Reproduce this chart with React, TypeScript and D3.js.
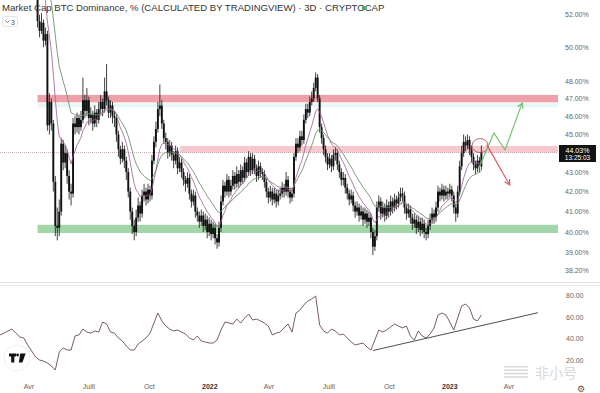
import React from 'react';
import * as d3 from 'd3';

// ---------- DATA ----------
const candleStart = '2021-02-16';
const candleStepDays = 3;
const firstOpen = 60.8;
const closes = [
  61.2,61.8,62.1,61.5,60.6,60.9,60.1,59.4,60.0,59.2,
  58.6,58.9,57.8,57.0,56.2,55.6,54.9,54.1,53.3,51.6,
  51.0,51.5,50.4,50.8,45.5,46.8,45.6,42.5,40.3,40.2,
  41.0,44.5,43.5,44.0,42.8,42.0,41.9,45.6,45.4,45.9,
  45.4,45.8,46.9,46.3,46.9,45.9,46.1,45.6,46.2,45.8,
  46.4,46.8,46.4,47.4,46.9,46.2,46.6,46.0,45.9,45.0,
  44.2,43.7,44.2,43.6,43.0,42.0,41.0,40.3,40.0,40.7,
  41.3,40.9,41.8,42.0,41.6,42.1,41.8,43.6,44.6,45.3,
  46.4,46.6,45.6,44.8,44.6,44.0,44.4,43.9,43.6,44.1,
  43.2,43.5,43.0,42.6,42.4,42.7,41.9,41.5,41.8,41.0,
  40.8,40.5,40.8,40.3,40.6,40.0,40.4,39.9,40.2,39.7,
  39.5,40.2,41.5,42.3,42.0,42.6,42.0,42.3,42.8,42.4,
  42.9,42.5,43.1,42.7,43.5,43.0,43.8,43.1,43.7,43.2,
  42.8,43.3,43.0,42.9,42.5,42.0,41.7,42.0,41.6,41.9,
  41.5,41.8,41.9,42.2,42.0,42.6,42.0,41.7,41.9,43.8,
  44.5,44.3,44.9,44.7,45.8,46.4,46.2,46.8,47.0,47.6,
  48.2,47.0,45.4,44.8,44.2,43.8,43.4,43.7,43.3,43.9,
  44.0,43.4,43.0,42.6,42.7,42.2,41.9,41.6,41.8,41.3,
  41.0,41.2,40.8,41.0,40.6,40.9,40.5,40.7,40.0,39.3,
  39.8,41.2,41.5,40.9,41.2,40.8,41.3,41.0,41.5,41.2,
  41.6,41.4,41.7,41.9,41.8,41.2,40.9,41.1,40.7,40.4,
  40.6,40.2,40.5,40.1,40.4,40.0,39.9,40.3,40.6,40.9,
  40.7,41.2,42.0,41.8,42.1,41.8,42.0,41.9,42.1,41.8,
  41.2,40.9,42.0,43.3,44.0,44.6,44.4,44.7,44.2,43.8,
  43.4,43.2,43.6,43.3,44.03,
];
const highs = [
  61.7,62.2,62.6,62.4,61.7,61.3,61.2,60.4,60.3,60.2,
  59.5,59.3,59.1,58.0,57.3,56.5,55.9,55.2,54.4,53.5,
  52.0,52.1,51.7,51.2,51.0,47.3,47.0,45.8,42.8,41.2,
  41.6,44.8,44.7,44.4,44.2,43.1,42.4,45.9,46.0,46.2,
  46.1,46.3,48.2,47.2,47.6,47.1,46.5,46.3,46.6,46.4,
  46.8,47.2,47.0,48.2,49.0,47.1,46.9,46.8,46.3,46.1,
  45.2,44.4,44.6,44.4,43.8,43.2,42.2,41.2,40.6,41.1,
  41.7,41.5,42.1,42.4,42.2,42.4,42.3,43.9,44.9,45.7,
  46.8,47.8,46.9,45.8,45.1,44.8,44.7,44.6,44.1,44.4,
  44.3,43.8,43.7,43.2,42.8,43.0,42.9,42.1,42.1,42.0,
  41.2,41.0,41.1,41.0,40.9,40.8,40.7,40.6,40.5,40.4,
  39.9,40.5,41.8,42.6,42.5,42.9,42.8,42.6,43.1,43.0,
  43.3,43.1,43.4,43.3,43.8,43.7,44.1,44.0,44.0,43.9,
  43.4,43.6,43.5,43.2,43.1,42.7,42.2,42.3,42.2,42.2,
  42.1,42.1,42.2,42.5,42.4,43.0,42.8,42.2,42.2,44.0,
  44.8,44.8,45.2,45.2,46.1,46.7,46.7,47.1,47.4,47.9,
  48.5,48.4,47.2,45.6,45.0,44.4,44.0,44.0,43.9,44.2,
  44.3,44.2,43.6,43.2,43.0,42.9,42.4,42.1,42.1,42.0,
  41.5,41.5,41.4,41.3,41.2,41.2,41.1,41.0,40.9,40.2,
  40.1,41.5,41.8,41.7,41.5,41.4,41.6,41.5,41.8,41.7,
  41.9,41.8,42.0,42.2,42.2,42.0,41.4,41.4,41.3,40.9,
  40.9,40.8,40.8,40.7,40.7,40.6,40.2,40.6,40.9,41.2,
  41.1,41.5,42.3,42.2,42.4,42.3,42.3,42.2,42.4,42.3,
  42.0,41.4,42.3,43.6,44.4,45.0,44.9,45.0,44.9,44.4,
  44.0,43.6,43.9,43.8,44.4,
];
const lows = [
  60.5,60.9,61.4,61.0,60.2,60.1,59.7,59.0,59.1,58.9,
  58.2,58.3,57.5,56.6,55.9,55.2,54.5,53.8,53.0,51.2,
  50.6,50.8,50.0,50.1,45.2,45.0,45.2,42.0,39.8,39.6,
  39.8,40.8,43.1,43.2,42.4,41.6,41.3,41.7,45.0,45.1,
  45.0,45.2,45.6,45.9,46.0,45.5,45.6,45.2,45.4,45.4,
  45.6,46.1,46.0,46.2,46.6,45.9,45.9,45.6,45.4,44.6,
  43.8,43.4,43.5,43.2,42.6,41.7,40.6,39.9,39.6,39.8,
  40.5,40.5,40.7,41.5,41.3,41.4,41.5,41.6,43.4,44.3,
  45.1,46.0,45.3,44.5,44.2,43.7,43.8,43.6,43.2,43.4,
  42.9,43.0,42.7,42.3,42.0,42.2,41.6,41.2,41.3,40.7,
  40.5,40.2,40.3,40.0,40.1,39.7,39.8,39.6,39.7,39.4,
  39.2,39.3,40.0,41.3,41.7,41.8,41.7,41.8,42.1,42.1,
  42.2,42.2,42.3,42.4,42.5,42.7,42.8,42.8,42.9,42.9,
  42.5,42.6,42.7,42.6,42.2,41.7,41.4,41.5,41.3,41.4,
  41.2,41.3,41.6,41.7,41.7,41.8,41.7,41.4,41.5,41.7,
  43.6,44.0,44.1,44.4,44.5,45.6,45.9,46.0,46.6,46.8,
  47.4,46.8,45.1,44.5,43.9,43.5,43.1,43.2,43.0,43.1,
  43.6,43.1,42.7,42.3,42.3,41.9,41.6,41.3,41.4,41.0,
  40.7,40.8,40.5,40.6,40.3,40.4,40.2,40.3,39.7,38.9,
  39.1,39.6,41.0,40.6,40.7,40.5,40.6,40.7,40.8,40.9,
  41.0,41.1,41.2,41.5,41.5,40.9,40.6,40.7,40.4,40.1,
  40.2,39.9,40.0,39.8,39.9,39.7,39.6,39.7,40.1,40.4,
  40.4,40.5,41.0,41.5,41.6,41.5,41.6,41.6,41.7,41.5,
  40.9,40.5,40.7,41.8,43.1,43.8,44.1,44.2,43.9,43.5,
  43.1,42.9,43.0,43.0,43.1,
];
// oscillator (lower pane), one reading every 2 candles
const oscEveryCandles = 2;
const oscValues = [
  43.3,45,47,48.8,45,41.4,40.5,34,28.4,22.8,
  20,19,17.2,14.4,10.7,27.4,31.2,29.3,29.3,42.3,
  43.3,48.8,46,45,47,46,55.3,53.5,46,45,
  40.5,37.7,33,29.3,29.3,34.9,37.7,40.5,45,54.4,
  63.7,56.3,51.6,48.8,47,47.9,46,44.2,40.5,38.6,
  42.3,37.7,36.7,35.8,35.8,38.6,47.9,55.3,54.4,53.5,
  58.1,54.4,59.1,62.8,57.2,58.1,56.3,54.4,51.6,43.3,
  45,46,49.8,53.5,46,63.7,66.5,71.2,74.9,76.7,
  79.5,52.6,47,45,48.8,47,43.3,44.2,40.5,36.7,
  34,34.9,35.8,32.1,29.3,38.6,47.9,46,47.9,50.7,
  53.5,51.6,49.8,51.6,42.3,38.6,47,42.3,40.5,44.2,
  49.8,61.9,63.7,61.9,55.3,47.9,59.1,70.2,72.1,68.4,
  58.1,56.3,61.9,
];
const oscTrendDates = ['2022-09-06', '2023-05-15'];
const oscTrendValues = [28.8, 64];

const priceTicks = [52, 50, 48, 47, 46, 45, 43, 42, 41, 40, 39, 38.2];
const oscTicks = [80, 60, 40, 20];
const timeTickDates = ['2021-04-01','2021-07-01','2021-10-01','2022-01-01','2022-04-01','2022-07-01','2022-10-01','2023-01-01','2023-04-01'];
const timeTickLabels = ['Avr','Juill','Oct','2022','Avr','Juill','Oct','2023','Avr'];
const yearTicks = ['2022', '2023'];

const lastPrice = 44.03;
const lastTimeLabel = '13:25:03';
const titleText = 'Market Cap BTC Dominance, % (CALCULATED BY TRADINGVIEW) · 3D · CRYPTOCAP';

const zoneLows = [46.78, 44.03, 39.95];
const zoneHighs = [47.2, 44.38, 40.35];
const zoneStarts = ['2021-04-14', '2021-11-17', '2021-04-14'];

const bullDates = ['2023-02-14', '2023-03-09', '2023-03-26', '2023-04-21'];
const bullPrices = [43.2, 45.08, 44.16, 46.74];
const bearDates = ['2023-02-26', '2023-04-02'];
const bearPrices = [44.45, 42.34];
const circleDate = '2023-02-16';
const circlePrice = 44.4;

// ---------- HELPERS ----------
const parse = (s: string) => { const [y, m, d] = s.split('-').map(Number); return new Date(y, m - 1, d); };
const addDays = (dt: Date, n: number) => new Date(dt.getFullYear(), dt.getMonth(), dt.getDate() + n);
const ema = (vals: number[], n: number) => { const a = 2 / (n + 1); let e = vals[0]; return vals.map((v, i) => (i === 0 ? e : (e = e + a * (v - e)))); };

const W = 600, H = 393;
const plotRight = 558;
const priceBottom = 281;

export default function App() {
  const x = d3.scaleTime().domain([parse('2021-04-01'), parse('2023-04-01')]).range([29, 509]);
  const y = d3.scaleLog().domain([40, 48]).range([232, 81]);
  const yo = d3.scaleLinear().domain([20, 80]).range([360, 295.5]);

  const start = parse(candleStart);
  const dates = closes.map((_, i) => addDays(start, i * candleStepDays));
  const opens = closes.map((_, i) => (i === 0 ? firstOpen : closes[i - 1]));
  const emaFast = ema(closes, 10);
  const emaSlow = ema(closes, 20);
  const line = d3.line<number>().x((_, i) => x(dates[i])).y((v) => y(v));
  const oscDates = oscValues.map((_, k) => addDays(start, k * oscEveryCandles * candleStepDays));
  const oscLine = d3.line<number>().x((_, k) => x(oscDates[k])).y((v) => yo(v));

  const fmt = d3.format('.2f');
  const font = "'Liberation Sans', Arial, sans-serif";

  const arrowHead = (pts: [number, number][], color: string) => {
    const [x1, y1] = pts[pts.length - 2];
    const [x2, y2] = pts[pts.length - 1];
    const ang = Math.atan2(y2 - y1, x2 - x1);
    const L = 6;
    const a1 = ang + Math.PI - 0.5, a2 = ang + Math.PI + 0.5;
    return (
      <path d={`M${x2 + L * Math.cos(a1)},${y2 + L * Math.sin(a1)}L${x2},${y2}L${x2 + L * Math.cos(a2)},${y2 + L * Math.sin(a2)}`}
        fill="none" stroke={color} strokeWidth={1.1} />
    );
  };
  const bullPts: [number, number][] = bullDates.map((d, i) => [x(parse(d)), y(bullPrices[i])]);
  const bearPts: [number, number][] = bearDates.map((d, i) => [x(parse(d)), y(bearPrices[i])]);
  const pl = d3.line();

  const yLast = y(lastPrice);

  return (
    <svg width={W} height={H} style={{ position: 'absolute', left: 0, top: 0, background: '#fff' }} fontFamily={font}>
      <defs>
        <clipPath id="pc"><rect x={0} y={0} width={plotRight} height={priceBottom} /></clipPath>
        <clipPath id="oc"><rect x={0} y={287} width={plotRight} height={90} /></clipPath>
      </defs>
      <rect width={W} height={H} fill="#fff" />

      <g clipPath="url(#pc)">
        {/* zones */}
        {zoneLows.map((lo, i) => {
          const x0 = x(parse(zoneStarts[i]));
          const fills = ['#efa1aa', '#f7c9cf', '#a3d7a9'];
          return <rect key={i} x={x0} y={y(zoneHighs[i])} width={plotRight - x0} height={y(lo) - y(zoneHighs[i])} fill={fills[i]} />;
        })}
        <rect x={x(parse(zoneStarts[0]))} y={y(zoneLows[0]) + 1} width={plotRight - x(parse(zoneStarts[0]))} height={4} fill="#e6f7f8" />
        {/* last price line */}
        <line x1={0} x2={plotRight} y1={yLast} y2={yLast} stroke="#b79a9e" strokeWidth={0.8} strokeDasharray="1,1" />

        {/* candles */}
        {closes.map((c, i) => {
          const cx = x(dates[i]);
          const o = opens[i];
          const top = y(Math.max(o, c));
          const bot = y(Math.min(o, c));
          return (
            <g key={i}>
              <line x1={cx} x2={cx} y1={y(highs[i])} y2={y(lows[i])} stroke="#111" strokeWidth={0.8} />
              <rect x={cx - 0.95} y={top} width={1.9} height={Math.max(0.9, bot - top)} fill="#111" />
            </g>
          );
        })}
        {/* moving averages */}
        <path d={line(emaSlow) || ''} fill="none" stroke="#6f8f72" strokeWidth={0.9} />
        <path d={line(emaFast) || ''} fill="none" stroke="#9a5a94" strokeWidth={0.8} />

        {/* annotations */}
        <ellipse cx={x(parse(circleDate))} cy={y(circlePrice)} rx={8} ry={7} fill="none" stroke="#b0464c" strokeWidth={0.8} />
        <path d={pl(bullPts) || ''} fill="none" stroke="#6cc070" strokeWidth={1.1} />
        {arrowHead(bullPts, '#6cc070')}
        <path d={pl(bearPts) || ''} fill="none" stroke="#e0525a" strokeWidth={1.1} />
        {arrowHead(bearPts, '#e0525a')}
      </g>

      {/* title */}
      <text x={2} y={11} fontSize={9.6} fill="#333">{titleText}</text>
      <circle cx={364} cy={8} r={2.3} fill="#4caf50" />
      <rect x={2.5} y={16.5} width={15} height={10} rx={2} fill="#fff" stroke="#ddd" strokeWidth={0.8} />
      <path d="M5.5,20.5 L7.5,22.5 L9.5,20.5" fill="none" stroke="#555" strokeWidth={0.8} />
      <text x={11} y={24.5} fontSize={7} fill="#555">3</text>

      {/* price axis */}
      {priceTicks.map((t) => (
        <text key={t} x={565} y={y(t) + 2.5} fontSize={7} fill="#666">{fmt(t)}%</text>
      ))}
      <rect x={559} y={yLast - 7.5} width={37} height={17} fill="#131313" />
      <text x={577.5} y={yLast + 0.5} fontSize={7} fill="#fff" textAnchor="middle">{fmt(lastPrice)}%</text>
      <text x={577.5} y={yLast + 7.5} fontSize={6.5} fill="#fff" textAnchor="middle">{lastTimeLabel}</text>

      {/* pane separator */}
      <line x1={0} x2={W} y1={282.5} y2={282.5} stroke="#e3e3e3" strokeWidth={1} />
      <line x1={0} x2={W} y1={285.5} y2={285.5} stroke="#e8e8e8" strokeWidth={1} />

      {/* oscillator */}
      <g clipPath="url(#oc)">
        <path d={oscLine(oscValues) || ''} fill="none" stroke="#6a4a55" strokeWidth={0.9} />
        <line x1={x(parse(oscTrendDates[0]))} y1={yo(oscTrendValues[0])} x2={x(parse(oscTrendDates[1]))} y2={yo(oscTrendValues[1])} stroke="#3a3a3a" strokeWidth={0.9} />
      </g>
      {oscTicks.map((t) => (
        <text key={t} x={566} y={yo(t) + 2.5} fontSize={7} fill="#666">{fmt(t)}</text>
      ))}

      {/* TradingView logo */}
      <circle cx={17} cy={358} r={13} fill="#fff" stroke="#f0f0f0" />
      <path d="M9,353.5 H16 V356.5 H14.3 V362.5 H11.2 V356.5 H9 Z" fill="#111" />
      <circle cx={17.6} cy={355} r={1.4} fill="#111" />
      <path d="M20.2,353.5 H25.6 L22.4,362.5 H18.9 Z" fill="#111" />

      {/* time axis */}
      {timeTickDates.map((d, i) => (
        <text key={d} x={x(parse(d))} y={389} fontSize={7} textAnchor="middle"
          fill={yearTicks.includes(timeTickLabels[i]) ? '#333' : '#666'}
          fontWeight={yearTicks.includes(timeTickLabels[i]) ? 'bold' : 'normal'}>{timeTickLabels[i]}</text>
      ))}
      <text x={581} y={392} fontSize={9} fill="#555" textAnchor="middle">⚙</text>

      {/* watermark */}
      <g opacity={0.45}>
        {[0, 1, 2, 3].map((k) => (
          <rect key={k} x={504} y={366 + k * 3.4} width={24} height={1.5} fill="#aaa" />
        ))}
        <text x={535} y={378} fontSize={14} fill="#aaa" fontFamily="'Noto Sans CJK SC'">非小号</text>
      </g>
    </svg>
  );
}
